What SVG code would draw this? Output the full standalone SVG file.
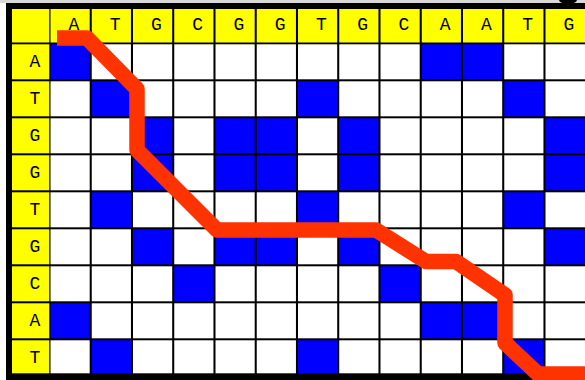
<svg xmlns="http://www.w3.org/2000/svg" width="585" height="380" viewBox="0 0 585 380">
<style>
.y{fill:#FFFF00}
.w{fill:#FFFFFF}
.b{fill:#0000FF}
.t{font-family:"Liberation Mono","DejaVu Sans Mono",monospace;font-size:18px;fill:#000;text-anchor:middle}
</style>
<rect x="0" y="0" width="585" height="380" fill="#FFFFFF"/>
<rect x="0" y="0" width="585" height="3" fill="#D8D8D8"/>
<ellipse cx="568" cy="0" rx="9" ry="4" fill="#000"/>
<rect x="6" y="3" width="579" height="377" fill="#000"/>
<g id="header">
<rect class="y" x="12" y="9" width="37.3" height="33.5"/>
<g id="col-headers">
<rect class="y" x="50.5" y="9" width="39.2" height="33.5"/><text class="t" x="74" y="30">A</text>
<rect class="y" x="91.75" y="9" width="39.2" height="33.5"/><text class="t" x="115.25" y="30">T</text>
<rect class="y" x="133" y="9" width="39.2" height="33.5"/><text class="t" x="156.5" y="30">G</text>
<rect class="y" x="174.25" y="9" width="39.2" height="33.5"/><text class="t" x="197.75" y="30">C</text>
<rect class="y" x="215.5" y="9" width="39.2" height="33.5"/><text class="t" x="239" y="30">G</text>
<rect class="y" x="256.75" y="9" width="39.2" height="33.5"/><text class="t" x="280.25" y="30">G</text>
<rect class="y" x="298" y="9" width="39.2" height="33.5"/><text class="t" x="321.5" y="30">T</text>
<rect class="y" x="339.25" y="9" width="39.2" height="33.5"/><text class="t" x="362.75" y="30">G</text>
<rect class="y" x="380.5" y="9" width="39.2" height="33.5"/><text class="t" x="404" y="30">C</text>
<rect class="y" x="421.75" y="9" width="39.2" height="33.5"/><text class="t" x="445.25" y="30">A</text>
<rect class="y" x="463" y="9" width="39.2" height="33.5"/><text class="t" x="486.5" y="30">A</text>
<rect class="y" x="504.25" y="9" width="39.2" height="33.5"/><text class="t" x="527.75" y="30">T</text>
<rect class="y" x="545.5" y="9" width="39.5" height="33.5"/><text class="t" x="569" y="30">G</text>
</g>
<g id="row-headers">
<rect class="y" x="12" y="44.3" width="37.3" height="35"/><text class="t" x="35" y="67">A</text>
<rect class="y" x="12" y="81.3" width="37.3" height="35"/><text class="t" x="35" y="104">T</text>
<rect class="y" x="12" y="118.3" width="37.3" height="35"/><text class="t" x="35" y="141">G</text>
<rect class="y" x="12" y="155.3" width="37.3" height="35"/><text class="t" x="35" y="178">G</text>
<rect class="y" x="12" y="192.3" width="37.3" height="35"/><text class="t" x="35" y="215">T</text>
<rect class="y" x="12" y="229.3" width="37.3" height="35"/><text class="t" x="35" y="252">G</text>
<rect class="y" x="12" y="266.3" width="37.3" height="35"/><text class="t" x="35" y="289">C</text>
<rect class="y" x="12" y="303.3" width="37.3" height="35"/><text class="t" x="35" y="326">A</text>
<rect class="y" x="12" y="340.3" width="37.3" height="33"/><text class="t" x="35" y="363">T</text>
</g>
</g>
<g id="cells">
<!-- row A -->
<rect class="b" x="50.5" y="44.3" width="39.2" height="35"/><rect class="w" x="91.75" y="44.3" width="39.2" height="35"/><rect class="w" x="133" y="44.3" width="39.2" height="35"/><rect class="w" x="174.25" y="44.3" width="39.2" height="35"/><rect class="w" x="215.5" y="44.3" width="39.2" height="35"/><rect class="w" x="256.75" y="44.3" width="39.2" height="35"/><rect class="w" x="298" y="44.3" width="39.2" height="35"/><rect class="w" x="339.25" y="44.3" width="39.2" height="35"/><rect class="w" x="380.5" y="44.3" width="39.2" height="35"/><rect class="b" x="421.75" y="44.3" width="39.2" height="35"/><rect class="b" x="463" y="44.3" width="39.2" height="35"/><rect class="w" x="504.25" y="44.3" width="39.2" height="35"/><rect class="w" x="545.5" y="44.3" width="39.5" height="35"/>
<!-- row T -->
<rect class="w" x="50.5" y="81.3" width="39.2" height="35"/><rect class="b" x="91.75" y="81.3" width="39.2" height="35"/><rect class="w" x="133" y="81.3" width="39.2" height="35"/><rect class="w" x="174.25" y="81.3" width="39.2" height="35"/><rect class="w" x="215.5" y="81.3" width="39.2" height="35"/><rect class="w" x="256.75" y="81.3" width="39.2" height="35"/><rect class="b" x="298" y="81.3" width="39.2" height="35"/><rect class="w" x="339.25" y="81.3" width="39.2" height="35"/><rect class="w" x="380.5" y="81.3" width="39.2" height="35"/><rect class="w" x="421.75" y="81.3" width="39.2" height="35"/><rect class="w" x="463" y="81.3" width="39.2" height="35"/><rect class="b" x="504.25" y="81.3" width="39.2" height="35"/><rect class="w" x="545.5" y="81.3" width="39.5" height="35"/>
<!-- row G -->
<rect class="w" x="50.5" y="118.3" width="39.2" height="35"/><rect class="w" x="91.75" y="118.3" width="39.2" height="35"/><rect class="b" x="133" y="118.3" width="39.2" height="35"/><rect class="w" x="174.25" y="118.3" width="39.2" height="35"/><rect class="b" x="215.5" y="118.3" width="39.2" height="35"/><rect class="b" x="256.75" y="118.3" width="39.2" height="35"/><rect class="w" x="298" y="118.3" width="39.2" height="35"/><rect class="b" x="339.25" y="118.3" width="39.2" height="35"/><rect class="w" x="380.5" y="118.3" width="39.2" height="35"/><rect class="w" x="421.75" y="118.3" width="39.2" height="35"/><rect class="w" x="463" y="118.3" width="39.2" height="35"/><rect class="w" x="504.25" y="118.3" width="39.2" height="35"/><rect class="b" x="545.5" y="118.3" width="39.5" height="35"/>
<!-- row G -->
<rect class="w" x="50.5" y="155.3" width="39.2" height="35"/><rect class="w" x="91.75" y="155.3" width="39.2" height="35"/><rect class="b" x="133" y="155.3" width="39.2" height="35"/><rect class="w" x="174.25" y="155.3" width="39.2" height="35"/><rect class="b" x="215.5" y="155.3" width="39.2" height="35"/><rect class="b" x="256.75" y="155.3" width="39.2" height="35"/><rect class="w" x="298" y="155.3" width="39.2" height="35"/><rect class="b" x="339.25" y="155.3" width="39.2" height="35"/><rect class="w" x="380.5" y="155.3" width="39.2" height="35"/><rect class="w" x="421.75" y="155.3" width="39.2" height="35"/><rect class="w" x="463" y="155.3" width="39.2" height="35"/><rect class="w" x="504.25" y="155.3" width="39.2" height="35"/><rect class="b" x="545.5" y="155.3" width="39.5" height="35"/>
<!-- row T -->
<rect class="w" x="50.5" y="192.3" width="39.2" height="35"/><rect class="b" x="91.75" y="192.3" width="39.2" height="35"/><rect class="w" x="133" y="192.3" width="39.2" height="35"/><rect class="w" x="174.25" y="192.3" width="39.2" height="35"/><rect class="w" x="215.5" y="192.3" width="39.2" height="35"/><rect class="w" x="256.75" y="192.3" width="39.2" height="35"/><rect class="b" x="298" y="192.3" width="39.2" height="35"/><rect class="w" x="339.25" y="192.3" width="39.2" height="35"/><rect class="w" x="380.5" y="192.3" width="39.2" height="35"/><rect class="w" x="421.75" y="192.3" width="39.2" height="35"/><rect class="w" x="463" y="192.3" width="39.2" height="35"/><rect class="b" x="504.25" y="192.3" width="39.2" height="35"/><rect class="w" x="545.5" y="192.3" width="39.5" height="35"/>
<!-- row G -->
<rect class="w" x="50.5" y="229.3" width="39.2" height="35"/><rect class="w" x="91.75" y="229.3" width="39.2" height="35"/><rect class="b" x="133" y="229.3" width="39.2" height="35"/><rect class="w" x="174.25" y="229.3" width="39.2" height="35"/><rect class="b" x="215.5" y="229.3" width="39.2" height="35"/><rect class="b" x="256.75" y="229.3" width="39.2" height="35"/><rect class="w" x="298" y="229.3" width="39.2" height="35"/><rect class="b" x="339.25" y="229.3" width="39.2" height="35"/><rect class="w" x="380.5" y="229.3" width="39.2" height="35"/><rect class="w" x="421.75" y="229.3" width="39.2" height="35"/><rect class="w" x="463" y="229.3" width="39.2" height="35"/><rect class="w" x="504.25" y="229.3" width="39.2" height="35"/><rect class="b" x="545.5" y="229.3" width="39.5" height="35"/>
<!-- row C -->
<rect class="w" x="50.5" y="266.3" width="39.2" height="35"/><rect class="w" x="91.75" y="266.3" width="39.2" height="35"/><rect class="w" x="133" y="266.3" width="39.2" height="35"/><rect class="b" x="174.25" y="266.3" width="39.2" height="35"/><rect class="w" x="215.5" y="266.3" width="39.2" height="35"/><rect class="w" x="256.75" y="266.3" width="39.2" height="35"/><rect class="w" x="298" y="266.3" width="39.2" height="35"/><rect class="w" x="339.25" y="266.3" width="39.2" height="35"/><rect class="b" x="380.5" y="266.3" width="39.2" height="35"/><rect class="w" x="421.75" y="266.3" width="39.2" height="35"/><rect class="w" x="463" y="266.3" width="39.2" height="35"/><rect class="w" x="504.25" y="266.3" width="39.2" height="35"/><rect class="w" x="545.5" y="266.3" width="39.5" height="35"/>
<!-- row A -->
<rect class="b" x="50.5" y="303.3" width="39.2" height="35"/><rect class="w" x="91.75" y="303.3" width="39.2" height="35"/><rect class="w" x="133" y="303.3" width="39.2" height="35"/><rect class="w" x="174.25" y="303.3" width="39.2" height="35"/><rect class="w" x="215.5" y="303.3" width="39.2" height="35"/><rect class="w" x="256.75" y="303.3" width="39.2" height="35"/><rect class="w" x="298" y="303.3" width="39.2" height="35"/><rect class="w" x="339.25" y="303.3" width="39.2" height="35"/><rect class="w" x="380.5" y="303.3" width="39.2" height="35"/><rect class="b" x="421.75" y="303.3" width="39.2" height="35"/><rect class="b" x="463" y="303.3" width="39.2" height="35"/><rect class="w" x="504.25" y="303.3" width="39.2" height="35"/><rect class="w" x="545.5" y="303.3" width="39.5" height="35"/>
<!-- row T -->
<rect class="w" x="50.5" y="340.3" width="39.2" height="33"/><rect class="b" x="91.75" y="340.3" width="39.2" height="33"/><rect class="w" x="133" y="340.3" width="39.2" height="33"/><rect class="w" x="174.25" y="340.3" width="39.2" height="33"/><rect class="w" x="215.5" y="340.3" width="39.2" height="33"/><rect class="w" x="256.75" y="340.3" width="39.2" height="33"/><rect class="b" x="298" y="340.3" width="39.2" height="33"/><rect class="w" x="339.25" y="340.3" width="39.2" height="33"/><rect class="w" x="380.5" y="340.3" width="39.2" height="33"/><rect class="w" x="421.75" y="340.3" width="39.2" height="33"/><rect class="w" x="463" y="340.3" width="39.2" height="33"/><rect class="b" x="504.25" y="340.3" width="39.2" height="33"/><rect class="w" x="545.5" y="340.3" width="39.5" height="33"/>
</g>
<g id="connectors">
<polyline points="57,38 87,38 137,89 137,150 217,230 376,230 426,261.5 456,261.5 505,295 505,343 538,374 590,374" fill="none" stroke="#FF3300" stroke-width="15.5" stroke-linejoin="round" stroke-linecap="butt"/>
</g>
</svg>
